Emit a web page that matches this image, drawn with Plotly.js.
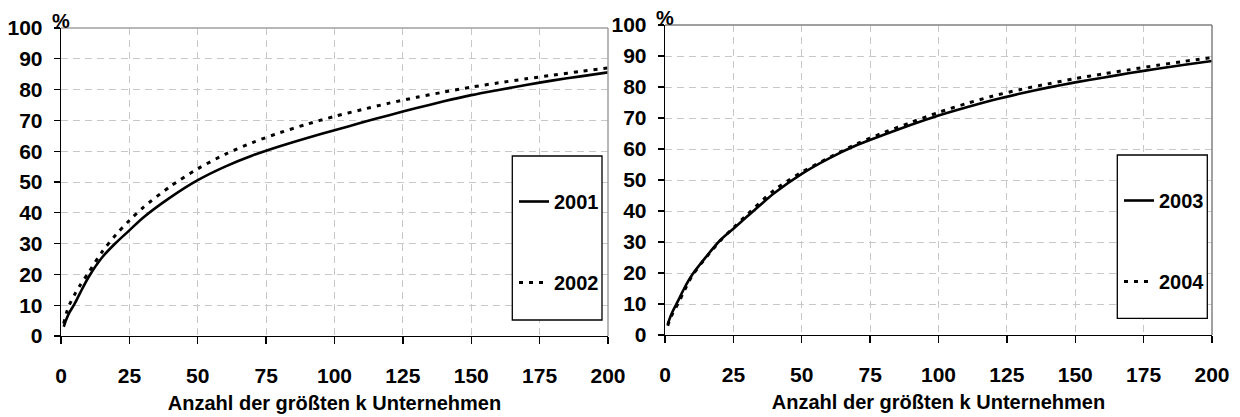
<!DOCTYPE html>
<html>
<head>
<meta charset="utf-8">
<script src="https://cdn.plot.ly/plotly-3.0.1.min.js"></script>
<style>html,body{margin:0;padding:0;background:#fff;}#chart{width:1240px;height:417px;}</style>
</head>
<body>
<div id="chart"></div>
<script>
// Number of largest k firms
const kValues = [1,2,3,5,7,10,15,20,25,30,40,50,60,70,80,90,100,110,120,130,140,150,160,170,180,190,200];
const share2001 = [3,5.5,7.5,10.5,14,19,25.5,30.2,34.3,38.4,45,50.6,55,58.6,61.6,64.3,66.8,69.3,71.7,74,76.2,78.2,79.9,81.5,83,84.3,85.6];
const share2002 = [4,7.5,10,13.5,16.5,20.5,27.3,32.8,37.5,41.7,48.6,54.3,59,62.8,66,68.8,71.3,73.5,75.6,77.5,79.2,80.8,82.2,83.5,84.7,85.9,87];
const share2003 = [3.5,6,8,11.4,15,19.5,25.2,30.4,34.3,38.2,45.8,52,57,61.2,64.6,67.8,70.8,73.4,75.8,77.9,79.8,81.5,83,84.5,85.9,87.2,88.4];
const share2004 = [3,5.5,7.3,10.5,14.2,19.2,25,30.2,34.6,38.8,46.8,52.5,57.2,61.6,65.3,68.6,71.8,74.6,77.1,79.2,81,82.7,84.2,85.6,87,88.3,89.5];
const xTicks = [0,25,50,75,100,125,150,175,200];
const yTicks = [0,10,20,30,40,50,60,70,80,90,100];
const yearLabels = ['2001','2002','2003','2004'];
const xTitle = 'Anzahl der größten k Unternehmen';
const unitLabel = '%';

const FONT = 'Liberation Sans, Arial, sans-serif';
const solid = {color:'#000', width:2.6, dash:'solid', shape:'spline', smoothing:0.8};
const dotted = {color:'#000', width:3, dash:'4px,6px', shape:'spline', smoothing:0.8};

const traces = [
  {x:kValues, y:share2001, name:yearLabels[0], type:'scatter', mode:'lines', line:solid, xaxis:'x', yaxis:'y', legend:'legend', legendgroup:'a'},
  {x:kValues, y:share2002, name:yearLabels[1], type:'scatter', mode:'lines', line:dotted, xaxis:'x', yaxis:'y', legend:'legend', legendgroup:'b'},
  {x:kValues, y:share2003, name:yearLabels[2], type:'scatter', mode:'lines', line:solid, xaxis:'x2', yaxis:'y2', legend:'legend2', legendgroup:'c'},
  {x:kValues, y:share2004, name:yearLabels[3], type:'scatter', mode:'lines', line:dotted, xaxis:'x2', yaxis:'y2', legend:'legend2', legendgroup:'d'}
];

function xAxis(domain, anchor){
  return {domain:domain, anchor:anchor, range:[0,200], tickmode:'array', tickvals:xTicks,
    ticks:'outside', ticklen:7, tickwidth:1.3, tickcolor:'#000',
    showline:true, linecolor:'#000', linewidth:1.3,
    showgrid:true, gridcolor:'#c8c8c8', gridwidth:1, griddash:'7px,5px', zeroline:false,
    tickfont:{family:FONT, size:21, weight:'bold', color:'#000'}, ticklabelstandoff:13,
    title:{text:xTitle, font:{family:FONT, size:20, weight:'bold', color:'#000'}, standoff:10},
    automargin:false, fixedrange:true};
}
function yAxis(domain, anchor){
  return {domain:domain, anchor:anchor, range:[0,100], tickmode:'array', tickvals:yTicks,
    ticks:'outside', ticklen:6, tickwidth:1.3, tickcolor:'#000',
    showline:true, linecolor:'#000', linewidth:1.3,
    showgrid:true, gridcolor:'#c8c8c8', gridwidth:1, griddash:'7px,5px', zeroline:false,
    tickfont:{family:FONT, size:21, weight:'bold', color:'#000'}, ticklabelstandoff:7,
    automargin:false, fixedrange:true};
}

function border(xr, yr, color){
  return [
    {type:'line', xref:xr+' domain', yref:yr+' domain', x0:0, x1:1, y0:1, y1:1, line:{color:color, width:1.5}, layer:'above'},
    {type:'line', xref:xr+' domain', yref:yr+' domain', x0:1, x1:1, y0:0, y1:1, line:{color:color, width:1.5}, layer:'above'}
  ];
}
function legendBox(x0,x1,y0,y1){
  return {type:'rect', xref:'paper', yref:'paper', x0:x0/1240, x1:x1/1240, y0:1-y1/417, y1:1-y0/417,
    line:{color:'#000', width:1.3}, fillcolor:'#fff', layer:'above'};
}

const layout = {
  width:1240, height:417,
  margin:{l:0, r:0, t:0, b:0},
  paper_bgcolor:'#fff', plot_bgcolor:'#fff',
  showlegend:true,
  xaxis: xAxis([61/1240, 608/1240], 'y'),
  yaxis: yAxis([1-336/417, 1-28/417], 'x'),
  xaxis2: xAxis([665/1240, 1212/1240], 'y2'),
  yaxis2: yAxis([1-335/417, 1-25/417], 'x2'),
  legend:{x:514/1240, y:1-182/417, xanchor:'left', yanchor:'top', bgcolor:'rgba(0,0,0,0)', borderwidth:0,
    font:{family:FONT, size:20, weight:'bold', color:'#000'}, tracegroupgap:52, itemwidth:30},
  legend2:{x:1119/1240, y:1-181/417, xanchor:'left', yanchor:'top', bgcolor:'rgba(0,0,0,0)', borderwidth:0,
    font:{family:FONT, size:20, weight:'bold', color:'#000'}, tracegroupgap:52, itemwidth:30},
  shapes: [].concat(border('x','y','#a0a0a0'), border('x2','y2','#808080'),
    [legendBox(512.3,602,156,320), legendBox(1117.3,1207.3,155,318.3)]),
  annotations:[
    {text:unitLabel, xref:'x domain', yref:'y domain', x:0, y:1, xanchor:'center', yanchor:'bottom', showarrow:false,
      font:{family:FONT, size:20, weight:'bold', color:'#000'}, yshift:-6},
    {text:unitLabel, xref:'x2 domain', yref:'y2 domain', x:0, y:1, xanchor:'center', yanchor:'bottom', showarrow:false,
      font:{family:FONT, size:20, weight:'bold', color:'#000'}, yshift:-6}
  ]
};

Plotly.newPlot('chart', traces, layout, {displayModeBar:false, staticPlot:true});
</script>
</body>
</html>
